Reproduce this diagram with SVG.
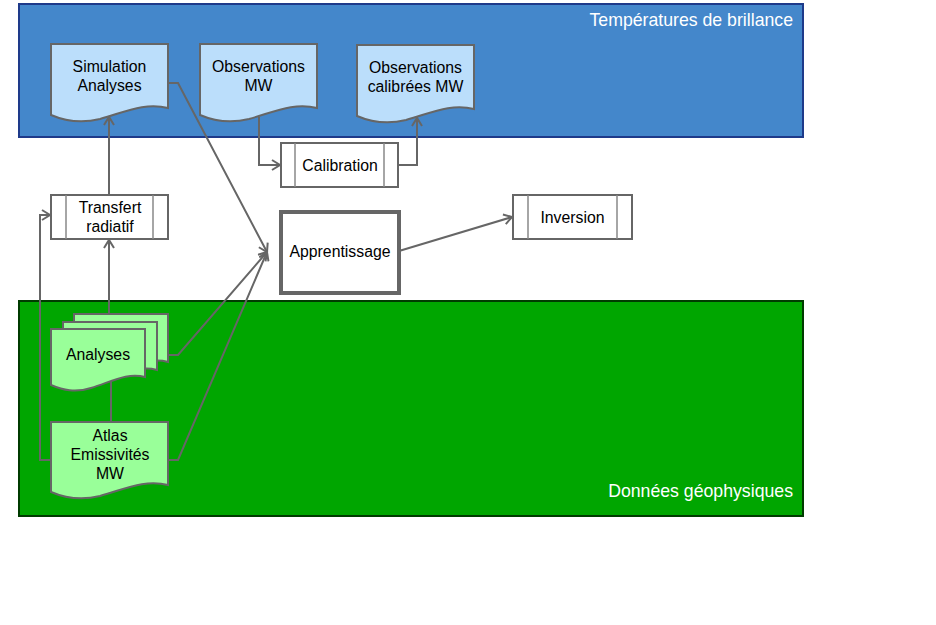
<svg xmlns="http://www.w3.org/2000/svg" width="936" height="625" viewBox="0 0 936 625">
<defs>
<style>
text{font-family:"Liberation Sans",Arial,sans-serif;font-size:15.8px;fill:#000;text-anchor:middle}
.title{fill:#fff;font-size:17.7px;text-anchor:end}
.n{stroke:#666;stroke-width:2;fill:#fff}
.db{stroke:#666;stroke-width:2;fill:#bbdefb}
.dg{stroke:#666;stroke-width:2;fill:#99ff99}
.c{stroke:#666;stroke-width:2;fill:none}
.a{marker-end:url(#arr)}
.in{stroke:#888;stroke-width:1.5}
</style>
<marker id="arr" viewBox="0 0 12 12" refX="10" refY="6" markerWidth="12" markerHeight="12" markerUnits="userSpaceOnUse" orient="auto">
<path d="M2,1 L10,6 L2,11" fill="none" stroke="#666" stroke-width="2"/>
</marker>
</defs>
<rect width="936" height="625" fill="#fff"/>
<g id="band-tb">
<rect x="19" y="4" width="784" height="133" fill="#4487cb" stroke="#1e3a8a" stroke-width="2"/>
<text class="title" x="793" y="26">Températures de brillance</text>
</g>
<g id="band-geo">
<rect x="19" y="301" width="784" height="215" fill="#00a600" stroke="#003b00" stroke-width="2"/>
<text class="title" x="793" y="497">Données géophysiques</text>
</g>
<g id="connectors">
<path class="c a" d="M259,117 V165 H280"/>
<path class="c a" d="M398,165 H417 V118"/>
<path class="c a" d="M109,195 V117"/>
<path class="c a" d="M109,314 V240"/>
<path class="c" d="M111,377 V422"/>
<path class="c a" d="M51,460 H40 V215 H50"/>
<path class="c a" d="M168,83 H178 L267,252"/>
<path class="c a" d="M168,355 H178 L267,252"/>
<path class="c a" d="M168,460 H178 L267,252"/>
<path class="c a" d="M399,251 L512,217"/>
</g>
<g id="simulation">
<path class="db" d="M51,44 H168 V108 C145,102 125,112 100,119 C80,124 65,121 51,115 Z"/>
<text x="109.5" y="72">Simulation</text>
<text x="109.5" y="91">Analyses</text>
</g>
<g id="obs-mw">
<path class="db" d="M200,44 H317 V108 C294,102 274,112 249,119 C229,124 214,121 200,115 Z"/>
<text x="258.5" y="72">Observations</text>
<text x="258.5" y="91">MW</text>
</g>
<g id="obs-cal">
<path class="db" d="M357,45 H474 V109 C451,103 431,113 406,120 C386,125 371,122 357,116 Z"/>
<text x="415.5" y="73">Observations</text>
<text x="415.5" y="92">calibrées MW</text>
</g>
<g id="calibration">
<rect class="n" x="281" y="143" width="117" height="44"/>
<line class="in" x1="295" y1="143" x2="295" y2="187"/>
<line class="in" x1="384" y1="143" x2="384" y2="187"/>
<text x="340" y="171">Calibration</text>
</g>
<g id="transfert">
<rect class="n" x="51" y="195" width="117" height="44"/>
<line class="in" x1="66" y1="195" x2="66" y2="239"/>
<line class="in" x1="153" y1="195" x2="153" y2="239"/>
<text x="110" y="213">Transfert</text>
<text x="110" y="232">radiatif</text>
</g>
<g id="apprentissage">
<rect x="281" y="212" width="118" height="81" fill="#fff" stroke="#666" stroke-width="4"/>
<text x="340" y="257">Apprentissage</text>
</g>
<g id="inversion">
<rect class="n" x="513" y="195" width="119" height="44"/>
<line class="in" x1="528" y1="195" x2="528" y2="239"/>
<line class="in" x1="617" y1="195" x2="617" y2="239"/>
<text x="572.5" y="223">Inversion</text>
</g>
<g id="analyses">
<path class="dg" d="M74,314 H168 V362 C150,357 134,366 114,372 C98,376 86,374 74,370 Z"/>
<path class="dg" d="M63,322 H157 V370 C139,365 123,374 103,380 C87,384 75,382 63,378 Z"/>
<path class="dg" d="M51,329 H145 V377 C127,372 111,382 91,388 C75,393 63,390 51,385 Z"/>
<text x="98" y="360">Analyses</text>
</g>
<g id="atlas">
<path class="dg" d="M51,422 H168 V485 C145,479 125,489 100,496 C80,501 65,498 51,492 Z"/>
<text x="110" y="441">Atlas</text>
<text x="110" y="460">Emissivités</text>
<text x="110" y="479">MW</text>
</g>
</svg>
